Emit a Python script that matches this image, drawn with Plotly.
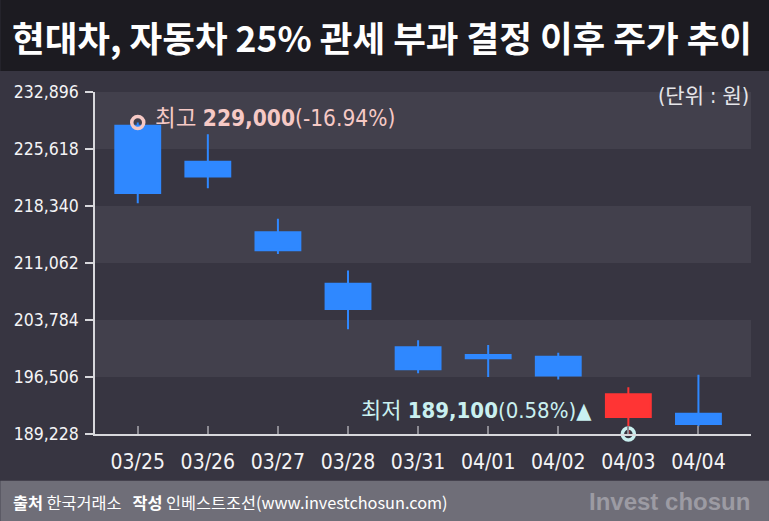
import plotly.graph_objects as go

# ---- data ----
dates = ["03/25", "03/26", "03/27", "03/28", "03/31", "04/01", "04/02", "04/03", "04/04"]
open_ = [228600, 224000, 215000, 208400, 200300, 199300, 199100, 191400, 191800]
high = [229000, 227500, 216700, 210100, 201200, 200600, 199600, 195200, 196800]
low = [218700, 220600, 212200, 202600, 197000, 196500, 196200, 189100, 190200]
close = [220000, 222100, 212700, 205200, 197500, 198900, 196700, 194300, 190500]
ytick_vals = [189228, 196506, 203784, 211062, 218340, 225618, 232896]
ytick_text = ["189,228", "196,506", "203,784", "211,062", "218,340", "225,618", "232,896"]

title_text = "현대차, 자동차 25% 관세 부과 결정 이후 주가 추이"
high_label = "최고 <b>229,000</b>(-16.94%)"
low_label = "최저 <b>189,100</b>(0.58%)▲"
unit_label = "(단위 : 원)"
source_label = "<b>출처</b> 한국거래소   <b>작성</b> 인베스트조선(www.investchosun.com)"
logo_label = "<b>Invest chosun</b>"

xs = list(range(len(dates)))
hi_idx = high.index(max(high))
lo_idx = low.index(min(low))
# low point sits on the axis floor (value below the visible range)
low_mark_y = max(low[lo_idx], ytick_vals[0])

NUM_FONT = "Liberation Sans Narrow, DejaVu Sans Condensed, Noto Sans CJK KR"
KR_FONT = "Noto Sans CJK KR, DejaVu Sans Condensed, sans-serif"

fig = go.Figure()

fig.add_trace(go.Candlestick(
    x=xs, open=open_, high=high, low=low, close=close,
    increasing=dict(line=dict(color="#ff3434", width=2), fillcolor="#ff3434"),
    decreasing=dict(line=dict(color="#2f88ff", width=2), fillcolor="#2f88ff"),
    whiskerwidth=0,
    showlegend=False, hoverinfo="skip",
))

# high / low circle markers
fig.add_trace(go.Scatter(
    x=[xs[hi_idx]], y=[high[hi_idx]], mode="markers",
    marker=dict(symbol="circle-open", size=12, line=dict(color="#f6c9c5", width=3.5), color="#f6c9c5"),
    showlegend=False, hoverinfo="skip", cliponaxis=False,
))
fig.add_trace(go.Scatter(
    x=[xs[lo_idx]], y=[low_mark_y], mode="markers",
    marker=dict(symbol="circle-open", size=12, line=dict(color="#c9f0f0", width=3.5), color="#c9f0f0"),
    showlegend=False, hoverinfo="skip", cliponaxis=False,
))

# alternating horizontal bands
shapes = []
for i in range(len(ytick_vals) - 1):
    if (len(ytick_vals) - 2 - i) % 2 == 0:
        shapes.append(dict(type="rect", xref="paper", yref="y", x0=0, x1=1,
                           y0=ytick_vals[i], y1=ytick_vals[i + 1],
                           fillcolor="#42404c", line=dict(width=0), layer="below"))

# title bar and footer bar (paper coords; plot area spans y 92..434 px)
PH = 342.3
def py(pixel_y):
    return (434.3 - pixel_y) / PH
PW = 656.3
def px(pixel_x):
    return (pixel_x - 94.7) / PW

shapes.append(dict(type="rect", xref="paper", yref="paper", x0=px(0), x1=px(769),
                   y0=py(71), y1=py(-2), fillcolor="#1c1b21", line=dict(width=0), layer="below"))
shapes.append(dict(type="rect", xref="paper", yref="paper", x0=px(0), x1=px(769),
                   y0=py(523), y1=py(481), fillcolor="#6f6e78", line=dict(width=0), layer="below"))

annotations = [
    dict(text=title_text, xref="paper", yref="paper", x=px(382), y=py(36),
         xanchor="center", yanchor="middle", showarrow=False,
         font=dict(family=KR_FONT, size=35.5, color="#ffffff", weight="bold")),
    dict(text=high_label, xref="x", yref="y", x=xs[hi_idx], y=high[hi_idx],
         xanchor="left", yanchor="middle", xshift=15, yshift=5, showarrow=False,
         font=dict(family=NUM_FONT, size=22.5, color="#f6c9c5")),
    dict(text=low_label, xref="x", yref="y", x=xs[lo_idx], y=low_mark_y,
         xanchor="right", yanchor="middle", xshift=-34, yshift=24, showarrow=False,
         font=dict(family=NUM_FONT, size=22, color="#c9f0f0")),
    dict(text=unit_label, xref="paper", yref="paper", x=1, y=py(96),
         xanchor="right", yanchor="middle", showarrow=False,
         font=dict(family=NUM_FONT, size=21, color="#e6e6ea")),
    dict(text=source_label, xref="paper", yref="paper", x=px(11), y=py(502),
         xanchor="left", yanchor="middle", showarrow=False,
         font=dict(family=KR_FONT, size=16.3, color="#ffffff")),
    dict(text=logo_label, xref="paper", yref="paper", x=px(752), y=py(502),
         xanchor="right", yanchor="middle", showarrow=False,
         font=dict(family="Liberation Sans, Arial, sans-serif", size=24, color="#9c9ba3")),
]

fig.update_layout(
    width=769, height=521,
    margin=dict(l=95, r=18, t=92, b=87, pad=0),
    paper_bgcolor="#373541", plot_bgcolor="#373541",
    shapes=shapes, annotations=annotations,
    boxgap=0.36, boxgroupgap=0,
    xaxis=dict(
        range=[-0.61, 8.75], tickvals=xs, ticktext=dates,
        showgrid=False, zeroline=False, rangeslider=dict(visible=False),
        showline=True, linecolor="#d8d8dc", linewidth=1.5,
        ticks="inside", ticklen=8, tickcolor="#8c8b93", tickwidth=1.5,
        ticklabelstandoff=8,
        tickfont=dict(family=NUM_FONT, size=21, color="#f4f4f6"),
        fixedrange=True,
    ),
    yaxis=dict(
        range=[ytick_vals[0], ytick_vals[-1]], tickvals=ytick_vals, ticktext=ytick_text,
        showgrid=False, zeroline=False,
        showline=True, linecolor="#d8d8dc", linewidth=1.5,
        ticks="outside", ticklen=8, tickcolor="#d8d8dc", tickwidth=1.5,
        ticklabelstandoff=3,
        tickfont=dict(family=NUM_FONT, size=17.5, color="#f4f4f6"),
        fixedrange=True,
    ),
)

fig.write_html("out.html")
